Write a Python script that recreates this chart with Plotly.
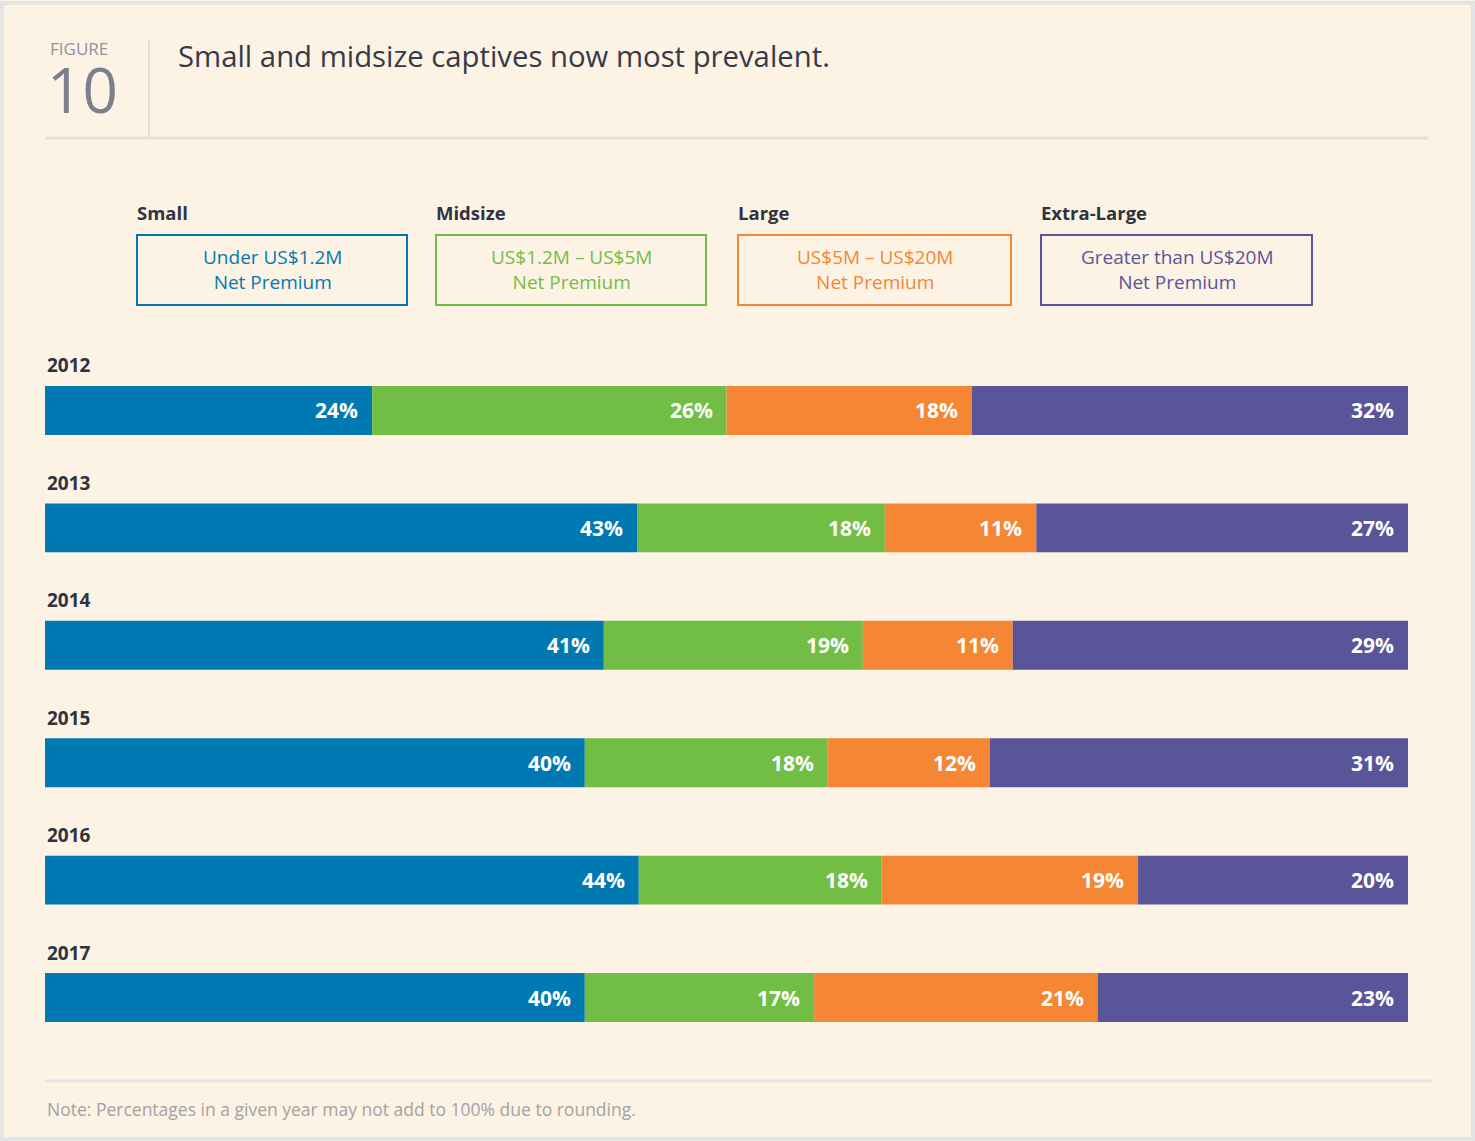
import plotly.graph_objects as go

# ---------------- data ----------------
years = ["2012", "2013", "2014", "2015", "2016", "2017"]
small = [24, 43, 41, 40, 44, 40]
midsize = [26, 18, 19, 18, 18, 17]
large = [18, 11, 11, 12, 19, 21]
extra_large = [32, 27, 29, 31, 20, 23]

series_names = ["Small", "Midsize", "Large", "Extra-Large"]
series_desc = ["Under US$1.2M<br>Net Premium", "US$1.2M – US$5M<br>Net Premium",
               "US$5M – US$20M<br>Net Premium", "Greater than US$20M<br>Net Premium"]
series_colors = ["#0079B2", "#72BE44", "#F58634", "#5A5499"]

title_text = "Small and midsize captives now most prevalent."
note_text = "Note: Percentages in a given year may not add to 100% due to rounding."

# ---------------- layout constants ----------------
W, H = 1475, 1141
ML, MR, MT, MB = 45, 67, 350, 81
PW, PH = W - ML - MR, H - MT - MB
BG = "#FDF3E4"
FONT = "Open Sans"


def px(x):
    return (x - ML) / PW


def py(y):
    return (H - MB - y) / PH


rows = list(range(len(years)))
all_series = [small, midsize, large, extra_large]
totals = [sum(v) for v in zip(*all_series)]

fig = go.Figure()
annotations = []
cum = [0.0] * len(years)
for name, vals, color in zip(series_names, all_series, series_colors):
    norm = [v / t * 100 for v, t in zip(vals, totals)]
    fig.add_trace(go.Bar(
        y=rows, x=norm, base=cum[:], orientation="h", name=name,
        marker=dict(color=color, line=dict(width=0)), width=0.417,
        hoverinfo="skip", showlegend=False,
    ))
    cum = [c + n for c, n in zip(cum, norm)]
    for r, c, v in zip(rows, cum, vals):
        annotations.append(dict(
            x=c, y=r, xref="x", yref="y", text=f"<b>{v}%</b>", showarrow=False,
            xanchor="right", yanchor="middle", xshift=-12,
            font=dict(family=FONT, size=21, color="white"),
        ))

# year labels above each bar
for r, yr in zip(rows, years):
    annotations.append(dict(
        x=px(45), y=r, xref="paper", yref="y", text=f"<b>{yr}</b>", showarrow=False,
        xanchor="left", yanchor="middle", yshift=45,
        font=dict(family=FONT, size=19, color="#2f3340"),
    ))

# header
annotations += [
    dict(x=px(48), y=py(49), xref="paper", yref="paper", text="FIGURE", showarrow=False,
         xanchor="left", yanchor="middle", font=dict(family=FONT, size=17, color="#8e929d")),
    dict(x=px(45), y=py(89), xref="paper", yref="paper", text="10", showarrow=False,
         xanchor="left", yanchor="middle", font=dict(family=FONT, size=62, color="#7c808c")),
    dict(x=px(176), y=py(56), xref="paper", yref="paper", text=title_text, showarrow=False,
         xanchor="left", yanchor="middle", font=dict(family=FONT, size=29.3, color="#363a48")),
    dict(x=px(45), y=py(1109), xref="paper", yref="paper", text=note_text, showarrow=False,
         xanchor="left", yanchor="middle", font=dict(family=FONT, size=17.5, color="#a2a2a6")),
]

# legend boxes
box_x = [(137, 407), (436, 706), (738, 1011), (1041, 1312)]
shapes = []
for (x0, x1), name, desc, color in zip(box_x, series_names, series_desc, series_colors):
    shapes.append(dict(type="rect", xref="paper", yref="paper", x0=px(x0), x1=px(x1),
                       y0=py(305), y1=py(235), line=dict(color=color, width=2), fillcolor=BG))
    annotations.append(dict(x=px(x0 - 2), y=py(212), xref="paper", yref="paper",
                            text=f"<b>{name}</b>", showarrow=False, xanchor="left", yanchor="middle",
                            font=dict(family=FONT, size=18.5, color="#2f3340")))
    annotations.append(dict(x=px((x0 + x1) / 2), y=py(270), xref="paper", yref="paper",
                            text=desc, showarrow=False, xanchor="center", yanchor="middle",
                            font=dict(family=FONT, size=19, color=color)))

# rules and frame
shapes += [
    dict(type="line", xref="paper", yref="paper", x0=px(45), x1=px(1428), y0=py(138), y1=py(138),
         line=dict(color="#e3e1de", width=3)),
    dict(type="line", xref="paper", yref="paper", x0=px(149), x1=px(149), y0=py(40), y1=py(137),
         line=dict(color="#e3e1de", width=2)),
    dict(type="line", xref="paper", yref="paper", x0=px(45), x1=px(1432), y0=py(1081), y1=py(1081),
         line=dict(color="#e3e3e3", width=3)),
    dict(type="rect", xref="paper", yref="paper", x0=px(2), x1=px(1473), y0=py(1139), y1=py(3),
         line=dict(color="#e4e4e4", width=4)),
]

fig.update_layout(
    width=W, height=H, margin=dict(l=ML, r=MR, t=MT, b=MB),
    paper_bgcolor=BG, plot_bgcolor=BG, barmode="overlay",
    xaxis=dict(range=[0, 100], visible=False, fixedrange=True),
    yaxis=dict(range=[5.532, -0.515], visible=False, fixedrange=True),
    annotations=annotations, shapes=shapes,
)

fig.write_html("out.html")
